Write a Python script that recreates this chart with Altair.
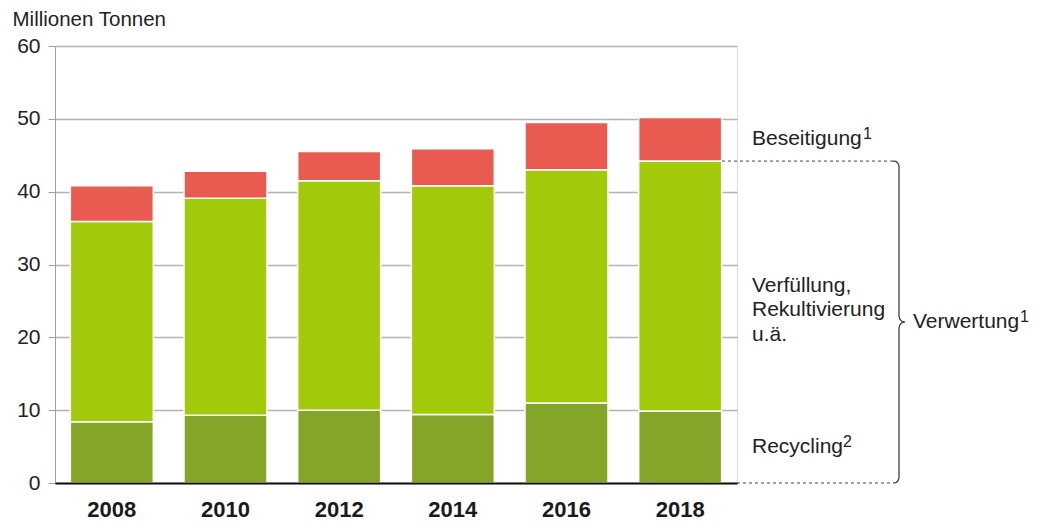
import altair as alt
import pandas as pd

years = ["2008", "2010", "2012", "2014", "2016", "2018"]
recycling = [8.4, 9.3, 10.0, 9.4, 11.0, 9.9]
verfuellung = [27.5, 29.8, 31.5, 31.4, 32.0, 34.3]
beseitigung = [4.9, 3.7, 4.0, 5.1, 6.5, 6.0]

series_names = ["Recycling", "Verfüllung", "Beseitigung"]
series_colors = ["#84A628", "#A3C90B", "#E95B50"]

rows = []
for i, y in enumerate(years):
    for k, (name, vals) in enumerate(zip(series_names, [recycling, verfuellung, beseitigung])):
        rows.append({"year": y, "series": name, "value": vals[i], "ord": k})
df = pd.DataFrame(rows)

FONT = "Liberation Sans"
TXT = "#222222"

yaxis = alt.Axis(title="Millionen Tonnen", titleAngle=0, titleAlign="left",
                 titleBaseline="alphabetic", titleX=-43, titleY=-21,
                 titleFont=FONT, titleFontSize=20.5, titleFontWeight="normal", titleColor=TXT,
                 values=[0, 10, 20, 30, 40, 50, 60], labelFont=FONT, labelFontSize=21,
                 labelColor=TXT, labelPadding=8, tickSize=7, tickColor="#a0a0a0",
                 domainColor="#a0a0a0", domainWidth=1, gridColor="#b4b4b4", gridWidth=1.5)
yscale = alt.Scale(domain=[0, 60], nice=False)

bars = alt.Chart(df).mark_bar(stroke="white", strokeWidth=1.5).encode(
    x=alt.X("year:N", sort=years,
            scale=alt.Scale(paddingInner=0.27, paddingOuter=0.135),
            axis=alt.Axis(title=None, labelAngle=0, labelFont=FONT, labelFontSize=22,
                          labelFontWeight="bold", labelColor="#1a1a1a", labelPadding=16,
                          ticks=False, domainColor="#111111", domainWidth=2, zindex=1, grid=False)),
    y=alt.Y("value:Q", stack="zero", scale=yscale, axis=yaxis),
    color=alt.Color("series:N", scale=alt.Scale(domain=series_names, range=series_colors), legend=None),
    order=alt.Order("ord:Q"),
)

# label anchors from the 2018 segments
r18, v18, b18 = recycling[-1], verfuellung[-1], beseitigung[-1]
verw_total = r18 + v18
LX = 697

def label(text, yv, x=LX, size=21, dy=0):
    return alt.Chart(pd.DataFrame({"a": [0]})).mark_text(
        align="left", baseline="middle", font=FONT, fontSize=size, color=TXT, dy=dy, lineBreak="\n", lineHeight=24.5
    ).encode(x=alt.value(x), y=alt.datum(yv), text=alt.value(text))

lab_bes = label("Beseitigung", r18 + v18 + b18 / 2)
sup_bes = label("1", r18 + v18 + b18 / 2, x=LX + 111, size=16, dy=-5)
lab_verf = label("Verfüllung,\nRekultivierung\nu.ä.", r18 + v18 / 2)
lab_rec = label("Recycling", r18 / 2)
sup_rec = label("2", r18 / 2, x=LX + 91, size=16, dy=-5)
VX = 858
lab_verw = label("Verwertung", verw_total / 2, x=VX)
sup_verw = label("1", verw_total / 2, x=VX + 107, size=16, dy=-5)

dash_top = alt.Chart(pd.DataFrame({"a": [0]})).mark_rule(strokeDash=[3, 3], color="#444444", strokeWidth=1).encode(
    x=alt.value(667), x2=alt.value(838), y=alt.datum(verw_total))
dash_bot = alt.Chart(pd.DataFrame({"a": [0]})).mark_rule(strokeDash=[3, 3], color="#444444", strokeWidth=1).encode(
    x=alt.value(682), x2=alt.value(838), y=alt.datum(0))

T = verw_total
M = verw_total / 2
bx = [838, 841, 843, 844, 844, 845, 847, 850, 847, 845, 844, 844, 843, 841, 838]
by = [T, T - 0.05, T - 0.3, T - 0.7, M + 0.8, M + 0.35, M + 0.1, M, M - 0.1, M - 0.35, M - 0.8, 0.7, 0.3, 0.05, 0]
brace_df = pd.DataFrame({"bx": bx, "value": by, "i": list(range(len(bx)))})
brace = alt.Chart(brace_df).mark_line(color="#333333", strokeWidth=1.2).encode(
    x=alt.X("bx:Q", scale=None, axis=None),
    y=alt.Y("value:Q", scale=yscale, axis=yaxis),
    order=alt.Order("i:Q"),
)

chart = alt.layer(
    bars, dash_top, dash_bot, lab_bes, sup_bes, lab_verf, lab_rec, sup_rec, lab_verw, sup_verw, brace
).resolve_scale(x="independent").properties(
    width=682, height=437,
    autosize=alt.AutoSizeParams(type="none"),
    padding={"left": 47, "top": 38, "right": 299, "bottom": 37},
).configure_view(strokeWidth=0).configure(background="white")

chart.save("out.html", embed_options={"renderer": "svg", "actions": False})
